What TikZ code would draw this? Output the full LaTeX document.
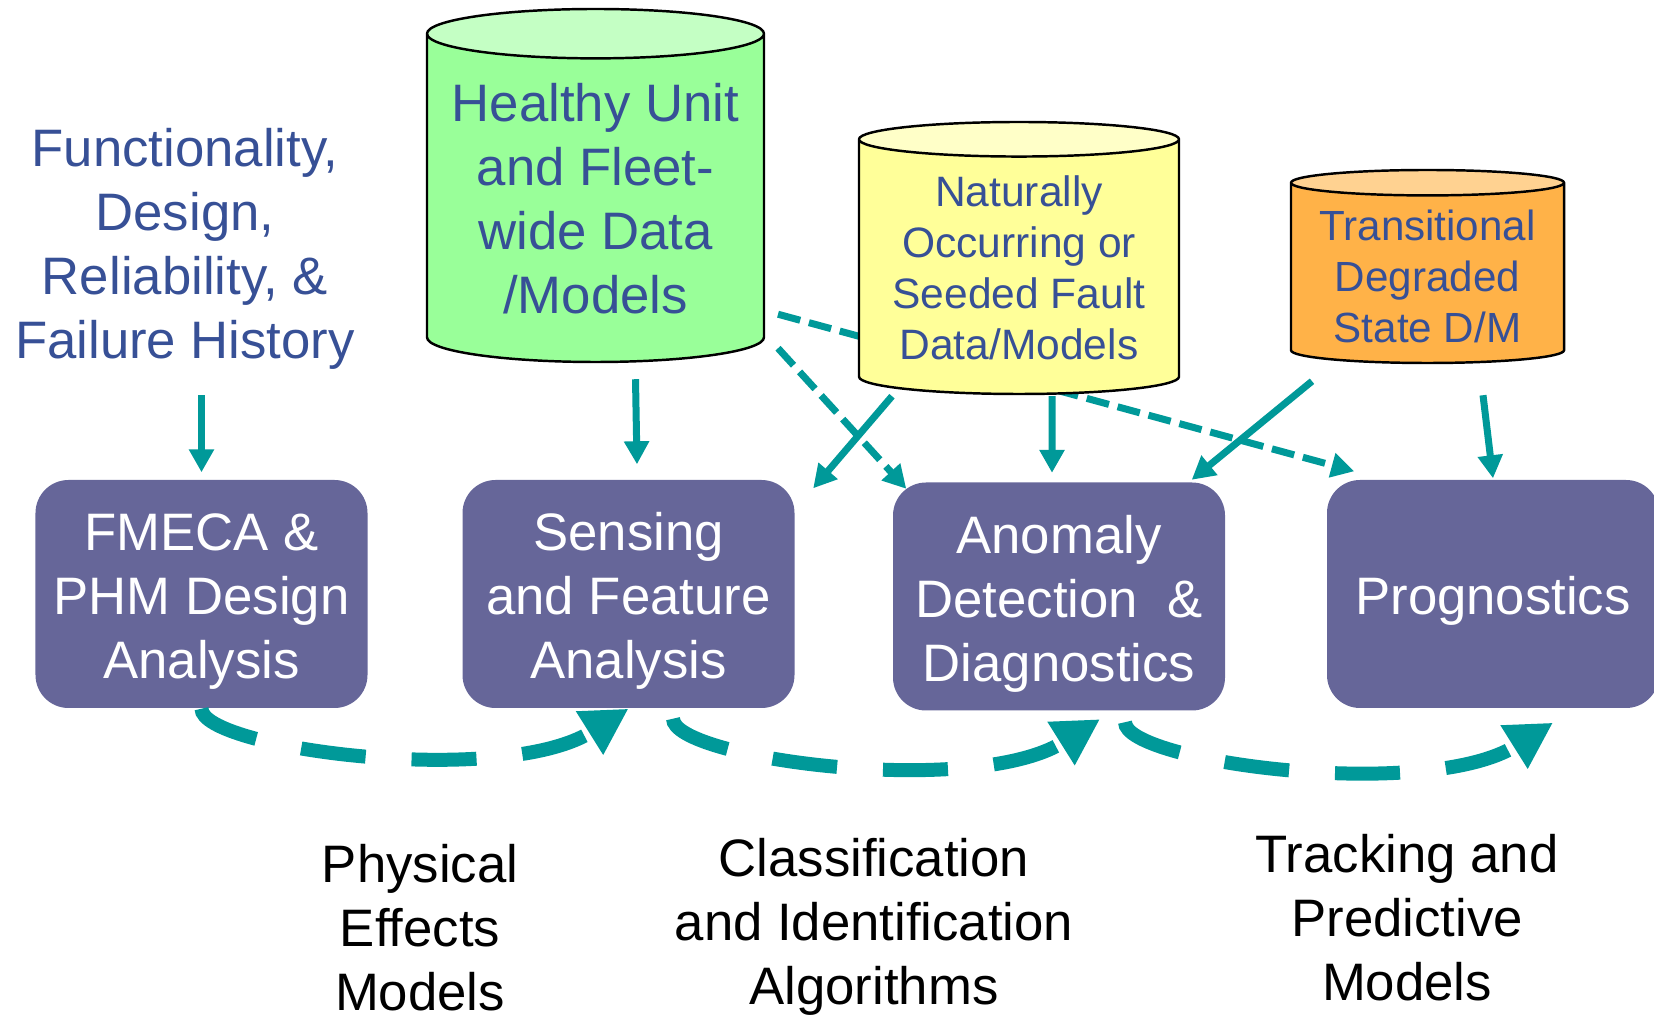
\documentclass[tikz,border=0pt]{standalone}
\usepackage{fontspec}
\setmainfont{Liberation Sans}
\usepackage{tikz}
\usetikzlibrary{shapes.geometric,arrows.meta}

\definecolor{stagefill}{RGB}{102,102,153}
\definecolor{flowteal}{RGB}{0,153,153}
\definecolor{inkblue}{RGB}{55,80,150}
\definecolor{greenbody}{RGB}{153,255,153}
\definecolor{greentop}{RGB}{196,255,196}
\definecolor{yellowbody}{RGB}{255,255,153}
\definecolor{yellowtop}{RGB}{255,255,200}
\definecolor{orangebody}{RGB}{255,178,72}
\definecolor{orangetop}{RGB}{255,210,145}

% lifts the first line a little, as in slide text boxes
\newcommand{\firstline}{\rule{0pt}{1em}}
% extra depth under a last line, pulls the text up in a store
\newcommand{\lastline}[1]{\rule[-#1]{0pt}{0pt}}

\tikzstyle{stage} = [rectangle, rounded corners=0.33cm, fill=stagefill, text=white,
  minimum width=3.32cm, minimum height=2.28cm, align=center,
  font=\fontsize{15}{18.2}\selectfont]
\tikzstyle{store} = [cylinder, shape border rotate=90, draw=black, line width=0.7pt,
  cylinder uses custom fill, text=inkblue, align=center, anchor=shape center]
\tikzstyle{note} = [inner sep=0pt, align=center, font=\fontsize{15}{18.2}\selectfont]
\tikzstyle{feed} = [draw=flowteal, line width=0.07cm, -{Triangle[length=0.23cm,width=0.24cm]}]
\tikzstyle{hint} = [feed, dash pattern=on 0.23cm off 0.09cm]
\tikzstyle{sweep} = [draw=flowteal, line width=0.14cm, dash pattern=on 0.65cm off 0.46cm,
  -{Triangle[length=0.46cm,width=0.48cm]}]

\begin{document}
\begin{tikzpicture}
	\useasboundingbox (0,0) rectangle (16.54,10.16);

	% sources
	\node[note, text=inkblue] (func) at (1.85,7.67)
		{Functionality,\\Design,\\Reliability, \&\\Failure History};
	\node[store, aspect=0.159, minimum width=3.37cm, minimum height=3.53cm,
		cylinder body fill=greenbody, cylinder end fill=greentop,
		font=\fontsize{15}{18.2}\selectfont] (healthy) at (5.955,8.305)
		{Healthy Unit\\and Fleet-\\wide Data\\/Models\lastline{0.1cm}};

	% processing stages
	\node[stage] (fmeca) at (2.015,4.22) {\firstline FMECA \&\\PHM Design\\Analysis};
	\node[stage] (sensing) at (6.285,4.22) {\firstline Sensing\\and Feature\\Analysis};
	\node[stage] (anomaly) at (10.59,4.195) {\firstline Anomaly\\Detection~~\&\\Diagnostics};
	\node[stage] (prog) at (14.93,4.22) {\firstline Prognostics};

	% runs behind the fault data store
	\draw[hint] ([shift={(1.825,0.49)}]healthy.south) -- ([shift={(0.28,0.08)}]prog.north west);

	\node[store, aspect=0.125, minimum width=3.2cm, minimum height=2.72cm,
		cylinder body fill=yellowbody, cylinder end fill=yellowtop,
		font=\fontsize{12.1}{14.5}\selectfont] (fault) at (10.19,7.58)
		{Naturally\\Occurring or\\Seeded Fault\\Data/Models\lastline{0.06cm}};
	\node[store, aspect=0.106, minimum width=2.73cm, minimum height=1.93cm,
		cylinder body fill=orangebody, cylinder end fill=orangetop,
		font=\fontsize{12}{14.5}\selectfont] (degraded) at (14.275,7.495)
		{Transitional\\Degraded\\State D/M};

	% models used by each stage
	\node[note] (physical) at (4.20,0.88) {Physical\\Effects\\Models};
	\node[note] (classify) at (8.74,0.893) {Classification\\and Identification\\Algorithms};
	\node[note] (tracking) at (14.07,0.983) {Tracking and\\Predictive\\Models};

	% inputs
	\draw[feed] ([yshift=-0.25cm]func.south -| fmeca.north) -- ([yshift=0.07cm]fmeca.north);
	\draw[feed] ([shift={(0.40,-0.16)}]healthy.south) -- ([shift={(0.085,0.15)}]sensing.north);
	\draw[hint] ([shift={(1.825,0.15)}]healthy.south) -- ([shift={(0.14,-0.07)}]anomaly.north west);
	\draw[feed] ([shift={(-1.27,-0.01)}]fault.south) -- ([shift={(0.18,-0.09)}]sensing.north east);
	\draw[feed] ([shift={(0.33,-0.01)}]fault.south) -- ([shift={(-0.07,0.09)}]anomaly.north);
	\draw[feed] ([shift={(-1.155,-0.17)}]degraded.south) -- ([shift={(-0.34,0.02)}]anomaly.north east);
	\draw[feed] ([shift={(0.555,-0.31)}]degraded.south) -- ([shift={(0,0.01)}]prog.north);

	% hand-over between stages
	\draw[sweep] (fmeca.south) .. controls +(0,-0.4) and +(-1.27,-0.795) .. (sensing.south);
	\draw[sweep] ([shift={(0.445,-0.10)}]sensing.south) .. controls +(0,-0.4) and +(-1.27,-0.795)
		.. ([shift={(0.41,-0.08)}]anomaly.south);
	\draw[sweep] ([shift={(0.66,-0.11)}]anomaly.south) .. controls +(0,-0.4) and +(-1.27,-0.795)
		.. ([shift={(0.60,-0.14)}]prog.south);
\end{tikzpicture}
\end{document}
